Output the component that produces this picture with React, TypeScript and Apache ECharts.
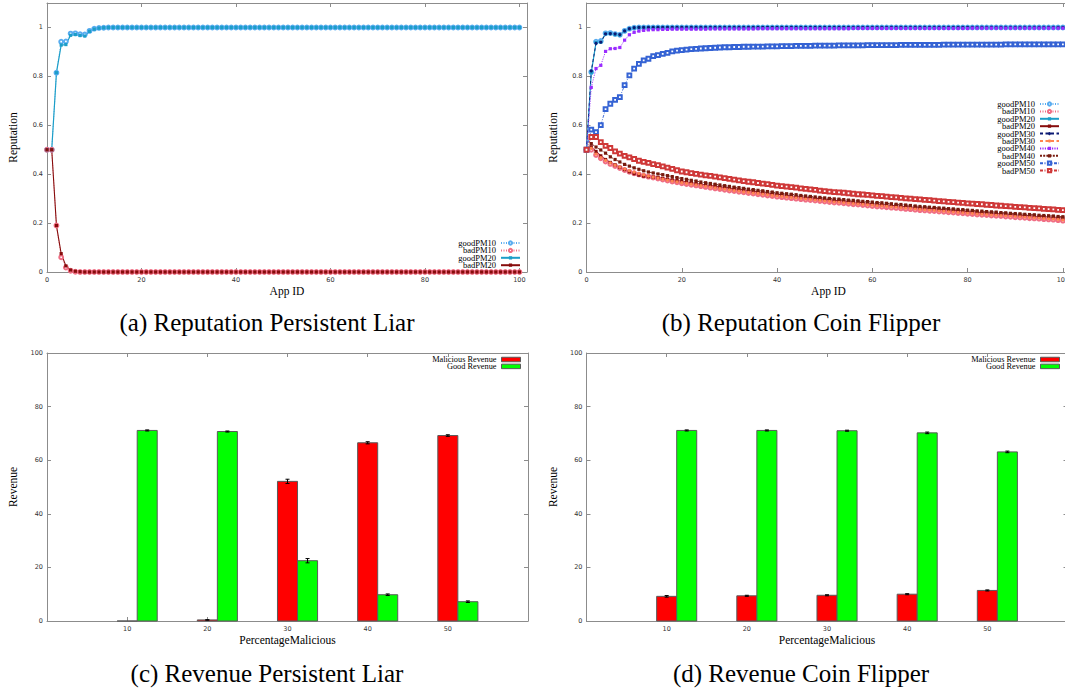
import React, { useEffect, useRef } from "react";
import * as echarts from "echarts";

// ---------- (a) Reputation Persistent Liar (App ID 0..100) ----------
const aGoodPM10 = [
  0.5, 0.5, 0.815, 0.942, 0.943, 0.975, 0.976, 0.972, 0.971, 0.986, 0.995,
  0.998, 0.999, 1, 1, 1, 1, 1, 1, 1, 1,
  1, 1, 1, 1, 1, 1, 1, 1, 1, 1,
  1, 1, 1, 1, 1, 1, 1, 1, 1, 1,
  1, 1, 1, 1, 1, 1, 1, 1, 1, 1,
  1, 1, 1, 1, 1, 1, 1, 1, 1, 1,
  1, 1, 1, 1, 1, 1, 1, 1, 1, 1,
  1, 1, 1, 1, 1, 1, 1, 1, 1, 1,
  1, 1, 1, 1, 1, 1, 1, 1, 1, 1,
  1, 1, 1, 1, 1, 1, 1, 1, 1, 1,
];
const aBadPM10 = [
  0.5, 0.5, 0.19, 0.06, 0.018, 0.005, 0.001, 0, 0, 0, 0,
  0, 0, 0, 0, 0, 0, 0, 0, 0, 0,
  0, 0, 0, 0, 0, 0, 0, 0, 0, 0,
  0, 0, 0, 0, 0, 0, 0, 0, 0, 0,
  0, 0, 0, 0, 0, 0, 0, 0, 0, 0,
  0, 0, 0, 0, 0, 0, 0, 0, 0, 0,
  0, 0, 0, 0, 0, 0, 0, 0, 0, 0,
  0, 0, 0, 0, 0, 0, 0, 0, 0, 0,
  0, 0, 0, 0, 0, 0, 0, 0, 0, 0,
  0, 0, 0, 0, 0, 0, 0, 0, 0, 0,
];
const aGoodPM20 = [
  0.5, 0.5, 0.815, 0.928, 0.93, 0.968, 0.971, 0.967, 0.965, 0.984, 0.993,
  0.997, 0.999, 1, 1, 1, 1, 1, 1, 1, 1,
  1, 1, 1, 1, 1, 1, 1, 1, 1, 1,
  1, 1, 1, 1, 1, 1, 1, 1, 1, 1,
  1, 1, 1, 1, 1, 1, 1, 1, 1, 1,
  1, 1, 1, 1, 1, 1, 1, 1, 1, 1,
  1, 1, 1, 1, 1, 1, 1, 1, 1, 1,
  1, 1, 1, 1, 1, 1, 1, 1, 1, 1,
  1, 1, 1, 1, 1, 1, 1, 1, 1, 1,
  1, 1, 1, 1, 1, 1, 1, 1, 1, 1,
];
const aBadPM20 = [
  0.5, 0.5, 0.19, 0.075, 0.025, 0.008, 0.003, 0.001, 0, 0, 0,
  0, 0, 0, 0, 0, 0, 0, 0, 0, 0,
  0, 0, 0, 0, 0, 0, 0, 0, 0, 0,
  0, 0, 0, 0, 0, 0, 0, 0, 0, 0,
  0, 0, 0, 0, 0, 0, 0, 0, 0, 0,
  0, 0, 0, 0, 0, 0, 0, 0, 0, 0,
  0, 0, 0, 0, 0, 0, 0, 0, 0, 0,
  0, 0, 0, 0, 0, 0, 0, 0, 0, 0,
  0, 0, 0, 0, 0, 0, 0, 0, 0, 0,
  0, 0, 0, 0, 0, 0, 0, 0, 0, 0,
];

// ---------- (b) Reputation Coin Flipper (App ID 0..100) ----------
const bGoodPM10 = [
  0.5, 0.818, 0.942, 0.945, 0.976, 0.977, 0.973, 0.97, 0.986, 0.995, 0.999,
  1, 1, 1, 1, 1, 1, 1, 1, 1, 1,
  1, 1, 1, 1, 1, 1, 1, 1, 1, 1,
  1, 1, 1, 1, 1, 1, 1, 1, 1, 1,
  1, 1, 1, 1, 1, 1, 1, 1, 1, 1,
  1, 1, 1, 1, 1, 1, 1, 1, 1, 1,
  1, 1, 1, 1, 1, 1, 1, 1, 1, 1,
  1, 1, 1, 1, 1, 1, 1, 1, 1, 1,
  1, 1, 1, 1, 1, 1, 1, 1, 1, 1,
  1, 1, 1, 1, 1, 1, 1, 1, 1, 1,
];
const bBadPM10 = [
  0.5, 0.5, 0.478, 0.465, 0.452, 0.442, 0.433, 0.425, 0.417, 0.41, 0.404,
  0.399, 0.394, 0.39, 0.386, 0.382, 0.378, 0.374, 0.37, 0.367, 0.363,
  0.36, 0.357, 0.354, 0.351, 0.348, 0.345, 0.342, 0.339, 0.336, 0.333,
  0.331, 0.328, 0.326, 0.323, 0.321, 0.318, 0.316, 0.313, 0.311, 0.308,
  0.306, 0.304, 0.302, 0.3, 0.298, 0.296, 0.294, 0.292, 0.29, 0.288,
  0.286, 0.284, 0.283, 0.281, 0.279, 0.277, 0.276, 0.274, 0.272, 0.27,
  0.268, 0.267, 0.265, 0.263, 0.262, 0.26, 0.258, 0.257, 0.255, 0.253,
  0.252, 0.25, 0.249, 0.247, 0.246, 0.244, 0.243, 0.241, 0.24, 0.238,
  0.237, 0.235, 0.234, 0.233, 0.231, 0.23, 0.229, 0.227, 0.226, 0.224,
  0.223, 0.222, 0.22, 0.219, 0.218, 0.216, 0.215, 0.214, 0.212, 0.21,
];
const bGoodPM20 = [
  0.5, 0.815, 0.938, 0.94, 0.974, 0.975, 0.971, 0.969, 0.985, 0.994, 0.998,
  1, 1, 1, 1, 1, 1, 1, 1, 1, 1,
  1, 1, 1, 1, 1, 1, 1, 1, 1, 1,
  1, 1, 1, 1, 1, 1, 1, 1, 1, 1,
  1, 1, 1, 1, 1, 1, 1, 1, 1, 1,
  1, 1, 1, 1, 1, 1, 1, 1, 1, 1,
  1, 1, 1, 1, 1, 1, 1, 1, 1, 1,
  1, 1, 1, 1, 1, 1, 1, 1, 1, 1,
  1, 1, 1, 1, 1, 1, 1, 1, 1, 1,
  1, 1, 1, 1, 1, 1, 1, 1, 1, 1,
];
const bBadPM20 = [
  0.5, 0.512, 0.493, 0.475, 0.46, 0.448, 0.438, 0.428, 0.419, 0.41, 0.402,
  0.396, 0.392, 0.39, 0.388, 0.386, 0.383, 0.38, 0.377, 0.374, 0.371,
  0.368, 0.365, 0.362, 0.359, 0.356, 0.354, 0.351, 0.348, 0.346, 0.343,
  0.34, 0.338, 0.335, 0.333, 0.33, 0.328, 0.325, 0.323, 0.32, 0.318,
  0.316, 0.314, 0.311, 0.309, 0.307, 0.305, 0.303, 0.301, 0.299, 0.297,
  0.295, 0.293, 0.292, 0.29, 0.288, 0.286, 0.285, 0.283, 0.281, 0.279,
  0.278, 0.276, 0.274, 0.273, 0.271, 0.269, 0.268, 0.266, 0.264, 0.262,
  0.261, 0.26, 0.258, 0.257, 0.255, 0.254, 0.252, 0.251, 0.249, 0.247,
  0.246, 0.245, 0.243, 0.242, 0.241, 0.239, 0.238, 0.237, 0.235, 0.233,
  0.232, 0.231, 0.23, 0.228, 0.227, 0.226, 0.225, 0.223, 0.222, 0.221,
];
const bGoodPM30 = [
  0.5, 0.822, 0.935, 0.94, 0.974, 0.975, 0.974, 0.971, 0.986, 0.995, 0.999,
  1, 1, 1, 1, 1, 1, 1, 1, 1, 1,
  1, 1, 1, 1, 1, 1, 1, 1, 1, 1,
  1, 1, 1, 1, 1, 1, 1, 1, 1, 1,
  1, 1, 1, 1, 1, 1, 1, 1, 1, 1,
  1, 1, 1, 1, 1, 1, 1, 1, 1, 1,
  1, 1, 1, 1, 1, 1, 1, 1, 1, 1,
  1, 1, 1, 1, 1, 1, 1, 1, 1, 1,
  1, 1, 1, 1, 1, 1, 1, 1, 1, 1,
  1, 1, 1, 1, 1, 1, 1, 1, 1, 1,
];
const bBadPM30 = [
  0.5, 0.506, 0.482, 0.468, 0.456, 0.446, 0.437, 0.429, 0.421, 0.414, 0.408,
  0.402, 0.397, 0.392, 0.388, 0.384, 0.38, 0.376, 0.372, 0.369, 0.365,
  0.362, 0.359, 0.356, 0.353, 0.35, 0.347, 0.344, 0.341, 0.339, 0.336,
  0.333, 0.331, 0.328, 0.326, 0.323, 0.321, 0.318, 0.316, 0.313, 0.311,
  0.309, 0.307, 0.305, 0.303, 0.301, 0.299, 0.297, 0.295, 0.293, 0.291,
  0.289, 0.287, 0.286, 0.284, 0.282, 0.28, 0.279, 0.277, 0.275, 0.273,
  0.271, 0.27, 0.268, 0.266, 0.265, 0.263, 0.261, 0.26, 0.258, 0.256,
  0.255, 0.253, 0.252, 0.25, 0.249, 0.247, 0.246, 0.244, 0.243, 0.241,
  0.24, 0.238, 0.237, 0.236, 0.234, 0.233, 0.232, 0.23, 0.229, 0.227,
  0.226, 0.225, 0.223, 0.222, 0.221, 0.219, 0.218, 0.217, 0.215, 0.213,
];
const bGoodPM40 = [
  0.5, 0.755, 0.832, 0.845, 0.902, 0.913, 0.914, 0.918, 0.948, 0.97, 0.98,
  0.985, 0.988, 0.99, 0.991, 0.991, 0.992, 0.992, 0.993, 0.993, 0.993,
  0.993, 0.993, 0.993, 0.993, 0.993, 0.994, 0.994, 0.994, 0.994, 0.994,
  0.994, 0.994, 0.994, 0.994, 0.994, 0.995, 0.995, 0.995, 0.995, 0.995,
  0.995, 0.995, 0.995, 0.995, 0.995, 0.995, 0.995, 0.995, 0.995, 0.995,
  0.995, 0.995, 0.995, 0.995, 0.995, 0.996, 0.996, 0.996, 0.996, 0.996,
  0.996, 0.996, 0.996, 0.996, 0.996, 0.996, 0.996, 0.996, 0.996, 0.996,
  0.996, 0.996, 0.996, 0.996, 0.996, 0.996, 0.996, 0.996, 0.996, 0.996,
  0.997, 0.997, 0.997, 0.997, 0.997, 0.997, 0.997, 0.997, 0.997, 0.997,
  0.997, 0.997, 0.997, 0.997, 0.997, 0.997, 0.997, 0.997, 0.997, 0.997,
];
const bBadPM40 = [
  0.5, 0.525, 0.511, 0.499, 0.486, 0.471, 0.46, 0.45, 0.44, 0.433, 0.426,
  0.42, 0.414, 0.409, 0.405, 0.401, 0.398, 0.394, 0.39, 0.386, 0.382,
  0.379, 0.375, 0.372, 0.368, 0.365, 0.362, 0.359, 0.356, 0.353, 0.35,
  0.347, 0.345, 0.342, 0.339, 0.337, 0.334, 0.332, 0.329, 0.327, 0.324,
  0.322, 0.32, 0.318, 0.316, 0.313, 0.311, 0.309, 0.307, 0.305, 0.303,
  0.301, 0.299, 0.298, 0.296, 0.294, 0.293, 0.291, 0.289, 0.288, 0.286,
  0.284, 0.283, 0.281, 0.279, 0.277, 0.276, 0.274, 0.272, 0.27, 0.268,
  0.267, 0.265, 0.264, 0.262, 0.261, 0.259, 0.258, 0.256, 0.255, 0.253,
  0.252, 0.25, 0.249, 0.247, 0.246, 0.245, 0.243, 0.242, 0.24, 0.239,
  0.238, 0.236, 0.235, 0.234, 0.232, 0.231, 0.23, 0.229, 0.227, 0.226,
];
const bGoodPM50 = [
  0.5, 0.582, 0.572, 0.601, 0.666, 0.688, 0.704, 0.715, 0.764, 0.804, 0.832,
  0.851, 0.865, 0.872, 0.883, 0.887, 0.892, 0.896, 0.902, 0.905, 0.907,
  0.909, 0.911, 0.912, 0.914, 0.915, 0.916, 0.917, 0.918, 0.919, 0.919,
  0.92, 0.92, 0.921, 0.921, 0.922, 0.922, 0.922, 0.923, 0.923, 0.923,
  0.924, 0.924, 0.924, 0.925, 0.925, 0.925, 0.925, 0.926, 0.926, 0.926,
  0.926, 0.926, 0.927, 0.927, 0.927, 0.927, 0.927, 0.927, 0.928, 0.928,
  0.928, 0.928, 0.928, 0.928, 0.928, 0.929, 0.929, 0.929, 0.929, 0.929,
  0.929, 0.929, 0.929, 0.929, 0.93, 0.93, 0.93, 0.93, 0.93, 0.93,
  0.93, 0.93, 0.93, 0.93, 0.93, 0.93, 0.93, 0.931, 0.931, 0.931,
  0.931, 0.931, 0.931, 0.931, 0.931, 0.931, 0.931, 0.931, 0.931, 0.931,
];
const bBadPM50 = [
  0.5, 0.552, 0.552, 0.531, 0.516, 0.507, 0.493, 0.484, 0.475, 0.469, 0.462,
  0.455, 0.45, 0.446, 0.441, 0.437, 0.432, 0.427, 0.422, 0.416, 0.411,
  0.408, 0.404, 0.401, 0.398, 0.395, 0.393, 0.39, 0.387, 0.384, 0.381,
  0.378, 0.375, 0.372, 0.369, 0.367, 0.364, 0.361, 0.359, 0.356, 0.353,
  0.351, 0.349, 0.347, 0.345, 0.342, 0.34, 0.338, 0.336, 0.333, 0.331,
  0.329, 0.327, 0.326, 0.324, 0.322, 0.32, 0.318, 0.317, 0.315, 0.313,
  0.311, 0.31, 0.308, 0.306, 0.305, 0.303, 0.301, 0.3, 0.298, 0.297,
  0.295, 0.294, 0.292, 0.29, 0.289, 0.287, 0.286, 0.284, 0.283, 0.281,
  0.28, 0.278, 0.277, 0.275, 0.274, 0.272, 0.271, 0.269, 0.268, 0.266,
  0.265, 0.264, 0.262, 0.261, 0.26, 0.258, 0.257, 0.256, 0.254, 0.253,
];

// ---------- (c) / (d) Revenue ----------
const revenueCategories = [10, 20, 30, 40, 50];
const cMalicious = [0, 0.4, 52.1, 66.5, 69.2];
const cMaliciousErr = [0, 0.1, 0.8, 0.4, 0.3];
const cGood = [71.1, 70.7, 22.5, 9.8, 7.2];
const cGoodErr = [0.2, 0.2, 0.8, 0.3, 0.3];
const dMalicious = [9.2, 9.4, 9.6, 10.0, 11.4];
const dMaliciousErr = [0.3, 0.2, 0.2, 0.2, 0.2];
const dGood = [71.1, 71.1, 71.0, 70.2, 63.1];
const dGoodErr = [0.2, 0.2, 0.2, 0.3, 0.3];

const captions = [
  "(a) Reputation Persistent Liar",
  "(b) Reputation Coin Flipper",
  "(c) Revenue Persistent Liar",
  "(d) Revenue Coin Flipper",
];

const repNamesA = ["goodPM10", "badPM10", "goodPM20", "badPM20"];
const repNamesB = ["goodPM10", "badPM10", "goodPM20", "badPM20", "goodPM30", "badPM30", "goodPM40", "badPM40", "goodPM50", "badPM50"];
const revNames = ["Malicious Revenue", "Good Revenue"];

const lineStyles: Record<string, any> = {
  goodPM10: { color: "#58acf0", type: [1, 1.5], width: 0.8, symbol: "emptyCircle" },
  badPM10: { color: "#f06e84", type: [1, 1.5], width: 0.8, symbol: "emptyCircle" },
  goodPM20: { color: "#1c9ec8", type: "solid", width: 1.2, symbol: "rect" },
  badPM20: { color: "#870c0c", type: "solid", width: 1.1, symbol: "rect" },
  goodPM30: { color: "#0c1a74", type: [3, 2.5], width: 0.9, symbol: "circle" },
  badPM30: { color: "#ff8450", type: [3, 2.5], width: 0.9, symbol: "circle" },
  goodPM40: { color: "#9a2cff", type: [1.2, 1.2], width: 0.9, symbol: "rect" },
  badPM40: { color: "#781a0e", type: [2, 1.2], width: 0.9, symbol: "rect" },
  goodPM50: { color: "#3563d4", type: [3, 1.5, 1, 1.5], width: 0.9, symbol: "emptyRect" },
  badPM50: { color: "#cf3838", type: [3, 1.5, 1, 1.5], width: 0.9, symbol: "emptyRect" },
};

const revColors: Record<string, string> = {
  "Malicious Revenue": "#ff0000",
  "Good Revenue": "#00ff00",
};

const AXIS_GREY = "#8c8c8c";
const TICK_FONT = "DejaVu Sans";
const SERIF = "Liberation Serif";

function lineSeries(name: string, values: number[], axisIdx: number) {
  const s = lineStyles[name];
  const empty = String(s.symbol).startsWith("empty");
  return {
    type: "line",
    name,
    xAxisIndex: axisIdx,
    yAxisIndex: axisIdx,
    data: values.map((v, i) => [i, v]),
    symbol: s.symbol,
    symbolSize: empty ? 3.8 : 3.2,
    showSymbol: true,
    showAllSymbol: true,
    lineStyle: { color: s.color, width: s.width, type: s.type },
    itemStyle: { color: s.color, borderColor: s.color, borderWidth: empty ? 0.7 : 0 },
    emphasis: { disabled: true },
    silent: true,
  };
}

function barSeries(name: string, values: number[], errs: number[], axisIdx: number, lo: number, hi: number) {
  const color = revColors[name];
  return {
    type: "custom",
    name,
    xAxisIndex: axisIdx,
    yAxisIndex: axisIdx,
    data: revenueCategories.map((c, i) => [c, values[i], errs[i]]),
    itemStyle: { color, borderColor: "#5a5a5a", borderWidth: 1 },
    silent: true,
    renderItem: (params: any, api: any) => {
      const c = api.value(0);
      const v = api.value(1);
      const e = api.value(2);
      const tl = api.coord([c + lo, v]);
      const br = api.coord([c + hi, 0]);
      const mid = api.coord([c + (lo + hi) / 2, v]);
      const children: any[] = [
        {
          type: "rect",
          shape: { x: tl[0], y: tl[1], width: br[0] - tl[0], height: br[1] - tl[1] },
          style: { fill: color, stroke: "#5a5a5a", lineWidth: 1 },
        },
      ];
      if (e > 0) {
        const yLo = api.coord([c, v - e])[1];
        const yHi = api.coord([c, v + e])[1];
        const ls = { stroke: "#000", lineWidth: 1 };
        children.push(
          { type: "line", shape: { x1: mid[0], y1: yLo, x2: mid[0], y2: yHi }, style: ls },
          { type: "line", shape: { x1: mid[0] - 2, y1: yLo, x2: mid[0] + 2, y2: yLo }, style: ls },
          { type: "line", shape: { x1: mid[0] - 2, y1: yHi, x2: mid[0] + 2, y2: yHi }, style: ls }
        );
      }
      return { type: "group", children };
    },
  };
}

const repXLabel = (v: number) => (Math.abs(v % 20) < 1e-9 ? String(v) : "");
const repYLabel = (v: number) => {
  const r = Math.round(v * 5) / 5;
  return Math.abs(v - r) < 1e-9 ? String(r) : "";
};
const revXLabel = (v: number) => (v >= 10 && v <= 50 ? String(v) : "");

export default function App() {
  const ref = useRef<HTMLDivElement>(null);
  useEffect(() => {
    if (!ref.current) return;
    const chart = echarts.init(ref.current, null, { renderer: "svg" });

    const grids = [
      { left: 47, top: 3, width: 480, height: 269 },
      { left: 586.5, top: 3, width: 484, height: 269 },
      { left: 47, top: 353, width: 481, height: 268 },
      { left: 586.5, top: 353, width: 481, height: 268 },
    ].map((g) => ({ ...g, outerBoundsMode: "none", containLabel: false, show: false }));

    const axisLine = { show: true, onZero: false, lineStyle: { color: AXIS_GREY, width: 1 } };
    const axisTick = { show: true, inside: true, length: 4, lineStyle: { color: AXIS_GREY, width: 1 } };
    const labelStyle = { color: "#333", fontFamily: TICK_FONT, fontSize: 6.5 };
    const nameStyle = { color: "#000", fontFamily: SERIF, fontSize: 11.5 };

    const xAxes: any[] = [];
    const yAxes: any[] = [];
    for (let g = 0; g < 4; g++) {
      const isRep = g < 2;
      const xr = isRep ? { min: 0, max: 101.6, interval: 20 } : { min: 0, max: 60, interval: 10 };
      const yr = isRep ? { min: 0, max: 1.1, interval: 0.2 } : { min: 0, max: 100, interval: 20 };
      xAxes.push({
        type: "value", gridIndex: g, position: "bottom", ...xr,
        axisLine, axisTick, splitLine: { show: false },
        axisLabel: { ...labelStyle, margin: 4, formatter: isRep ? repXLabel : revXLabel },
        name: isRep ? "App ID" : "PercentageMalicious",
        nameLocation: "middle", nameGap: 13, nameTextStyle: nameStyle,
      });
      yAxes.push({
        type: "value", gridIndex: g, position: "left", ...yr,
        axisLine, axisTick, splitLine: { show: false },
        axisLabel: { ...labelStyle, margin: 4, ...(isRep ? { formatter: repYLabel } : {}) },
        name: isRep ? "Reputation" : "Revenue",
        nameLocation: "middle", nameGap: 28, nameTextStyle: nameStyle,
      });
    }
    for (let g = 0; g < 4; g++) {
      const isRep = g < 2;
      const xr = isRep ? { min: 0, max: 101.6, interval: 20 } : { min: 0, max: 60, interval: 10 };
      const yr = isRep ? { min: 0, max: 1.1, interval: 0.2 } : { min: 0, max: 100, interval: 20 };
      xAxes.push({
        type: "value", gridIndex: g, position: "top", ...xr,
        axisLine, axisTick, splitLine: { show: false }, axisLabel: { show: false },
      });
      yAxes.push({
        type: "value", gridIndex: g, position: "right", ...yr,
        axisLine, axisTick, splitLine: { show: false }, axisLabel: { show: false },
      });
    }

    const series: any[] = [
      lineSeries("goodPM10", aGoodPM10, 0),
      lineSeries("badPM10", aBadPM10, 0),
      lineSeries("goodPM20", aGoodPM20, 0),
      lineSeries("badPM20", aBadPM20, 0),
      lineSeries("goodPM10", bGoodPM10, 1),
      lineSeries("badPM10", bBadPM10, 1),
      lineSeries("goodPM20", bGoodPM20, 1),
      lineSeries("badPM20", bBadPM20, 1),
      lineSeries("goodPM30", bGoodPM30, 1),
      lineSeries("badPM30", bBadPM30, 1),
      lineSeries("goodPM40", bGoodPM40, 1),
      lineSeries("badPM40", bBadPM40, 1),
      lineSeries("goodPM50", bGoodPM50, 1),
      lineSeries("badPM50", bBadPM50, 1),
      barSeries("Malicious Revenue", cMalicious, cMaliciousErr, 2, -1.25, 1.25),
      barSeries("Good Revenue", cGood, cGoodErr, 2, 1.25, 3.75),
      barSeries("Malicious Revenue", dMalicious, dMaliciousErr, 3, -1.25, 1.25),
      barSeries("Good Revenue", dGood, dGoodErr, 3, 1.25, 3.75),
    ];

    const legendText = { color: "#000", fontFamily: SERIF, fontSize: 8.5 };
    const repLegend = (names: string[], right: number, top: number) => ({
      orient: "vertical", align: "right", right, top, padding: 0,
      itemWidth: 19, itemHeight: 4, itemGap: -1.6, selectedMode: false,
      textStyle: legendText,
      data: names.map((n) => ({ name: n })),
    });
    const revLegend = (right: number, top: number) => ({
      orient: "vertical", align: "right", right, top, padding: 0,
      itemWidth: 19, itemHeight: 4.5, itemGap: -1.1, selectedMode: false,
      textStyle: { ...legendText, fontSize: 8.3 },
      data: revNames.map((n) => ({
        name: n, icon: "rect",
        itemStyle: { color: revColors[n], borderColor: "#5a5a5a", borderWidth: 1 },
      })),
    });

    const capStyle = (text: string) => ({
      text, fill: "#000", fontFamily: SERIF, fontSize: 25, align: "center", verticalAlign: "middle",
    });

    chart.setOption({
      animation: false,
      backgroundColor: "#fff",
      grid: grids,
      xAxis: xAxes,
      yAxis: yAxes,
      legend: [
        repLegend(repNamesA, 544, 238.5),
        repLegend(repNamesB, 5, 99.5),
        revLegend(544, 355.5),
        revLegend(5, 355.5),
      ],
      series,
      graphic: [
        { type: "text", x: 267, y: 322, style: capStyle(captions[0]) },
        { type: "text", x: 801, y: 322, style: capStyle(captions[1]) },
        { type: "text", x: 267, y: 673, style: capStyle(captions[2]) },
        { type: "text", x: 801, y: 673, style: capStyle(captions[3]) },
      ],
    });
    return () => chart.dispose();
  }, []);
  return (
    <div
      ref={ref}
      style={{ position: "absolute", left: 0, top: 0, width: 1065, height: 694, background: "#fff" }}
    />
  );
}
